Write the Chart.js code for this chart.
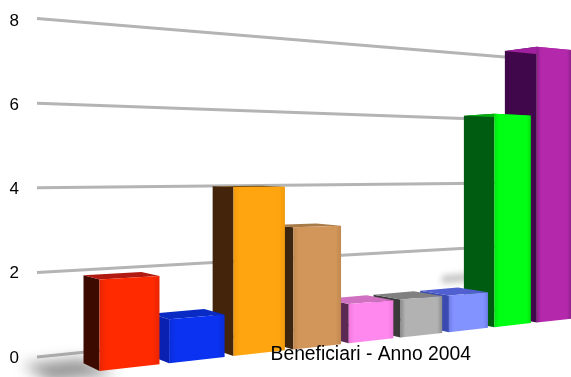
<!DOCTYPE html>
<html lang="it">
<head>
    <meta charset="UTF-8">
    <title>Beneficiari - Anno 2004</title>
    <style>
        html, body { margin: 0; padding: 0; background: #fff; }
        canvas { display: block; }
    </style>
</head>
<body>
    <canvas id="chart" width="571" height="377"></canvas>
    <script src="https://cdn.jsdelivr.net/npm/chart.js"></script>
    <script>
        // values (the categories have no visible names)
        const categories = ["1", "2", "3", "4", "5", "6", "7", "8", "9"];
        const beneficiari = [2, 1, 4, 3, 1, 1, 1, 6, 8];
        const axisTitle = "Beneficiari - Anno 2004";

        const frontColors = ["#ff2a00", "#0a32f0", "#ffa50f", "#d2965a", "#ff88ee", "#b2b2b2", "#8292ff", "#00ff14", "#b428ac"];
        const edgeColors = ["#e82400", "#0a2cd8", "#f09a0c", "#c08850", "#ee78dc", "#8c8c8c", "#6c7ce8", "#00e010", "#8c2088"];
        const sideColors = ["#3d0a00", "#0a20b0", "#44240a", "#3d2610", "#5a2a55", "#3a3a3a", "#3a4ab0", "#005c10", "#40084a"];
        const topColors = ["#b01a10", "#0a2ac4", "#7a5010", "#a87a48", "#d070c0", "#808080", "#5060d0", "#00b010", "#a020a0"];

        // camera used to turn the flat scale values into the tilted view
        const cam = { growth: 0.04, x0: 130, dx: 70, y0: 367.5, dy: -7.75, unit: 44.9, vx: -338, vy: 165, barDepth: 0.0365 };
        const wall = { x0: 37, y0: 357, unit0: 42.3, x1: 505, y1: 309, unit1: 31.5 };

        function project(i, h, d) {
            const w = 1 + cam.growth * i;
            const x = cam.x0 + cam.dx * i / w;
            const y = cam.y0 + cam.dy * i / w - cam.unit * h / w;
            return [x + d * (cam.vx - x), y + d * (cam.vy - y)];
        }

        function quad(ctx, pts, fill) {
            ctx.beginPath();
            pts.forEach((p, n) => n ? ctx.lineTo(p[0], p[1]) : ctx.moveTo(p[0], p[1]));
            ctx.closePath();
            ctx.fillStyle = fill;
            ctx.fill();
        }

        const tilted = {
            id: "tilted",
            beforeDatasetDraw(chart, args) {
                const ctx = chart.ctx;
                const xs = chart.scales.x;
                const ys = chart.scales.y;
                const n = categories.length;
                const bars = args.meta.data;
                const d = cam.barDepth;
                const left = el => xs.getDecimalForPixel(el.x - el.width / 2) * n - 0.5;
                const right = el => xs.getDecimalForPixel(el.x + el.width / 2) * n - 0.5;

                ctx.save();
                ctx.filter = "blur(0.6px)";

                // back wall lines
                ys.ticks.forEach(t => {
                    ctx.beginPath();
                    ctx.moveTo(wall.x0, wall.y0 - wall.unit0 * t.value);
                    ctx.lineTo(wall.x1, wall.y1 - wall.unit1 * t.value);
                    ctx.lineWidth = 3;
                    ctx.strokeStyle = "#b4b4b4";
                    ctx.stroke();
                });

                // soft shadows: floor left of the first bar, wall behind the seventh
                const sL = left(bars[0]);
                ctx.filter = "blur(7px)";
                quad(ctx, [project(sL - 0.75, 0, d + 0.02), project(sL + 0.1, 0, d + 0.02), project(sL + 0.1, 0, -0.02), project(sL - 0.75, 0, -0.02)], "rgba(90,90,90,0.65)");
                ctx.filter = "blur(3px)";
                const sR = right(bars[6]);
                quad(ctx, [project(sR + 0.5, 1.15, 0.08), project(sR + 1.2, 1.15, 0.08), project(sR + 1.2, 0.9, 0.08), project(sR + 0.5, 0.9, 0.08)], "rgba(170,170,170,0.7)");
                ctx.filter = "blur(0.6px)";

                // right to left, nearer bars cover the sides of the next ones
                for (let k = bars.length - 1; k >= 0; k--) {
                    const el = bars[k];
                    const iL = left(el);
                    const iR = right(el);
                    const h = ys.getValueForPixel(el.y);
                    const fl = project(iL, h, 0);
                    const fr = project(iR, h, 0);
                    const bl = project(iL, 0, 0);
                    const br = project(iR, 0, 0);

                    quad(ctx, [project(iL, h, d), project(iL, 0, d), bl, fl], sideColors[k]);
                    quad(ctx, [fl, fr, project(iR, h, d), project(iL, h, d)], topColors[k]);

                    const grad = ctx.createLinearGradient(fl[0], 0, fr[0], 0);
                    grad.addColorStop(0, edgeColors[k]);
                    grad.addColorStop(0.12, frontColors[k]);
                    grad.addColorStop(0.88, frontColors[k]);
                    grad.addColorStop(1, edgeColors[k]);
                    quad(ctx, [fl, fr, br, bl], grad);
                }
                ctx.restore();
                return false;
            }
        };

        new Chart(document.getElementById("chart"), {
            type: "bar",
            data: {
                labels: categories,
                datasets: [{ data: beneficiari, backgroundColor: frontColors, barPercentage: 0.857, categoryPercentage: 1 }]
            },
            options: {
                responsive: false,
                animation: false,
                events: [],
                layout: { autoPadding: false, padding: { left: 9, right: 100, top: 21, bottom: 0 } },
                plugins: { legend: { display: false }, tooltip: { enabled: false } },
                scales: {
                    x: {
                        afterFit(scale) { scale.height = 19; },
                        grid: { display: false, z: 1 },
                        border: { display: false },
                        ticks: { display: false },
                        title: {
                            display: true,
                            text: axisTitle,
                            align: "end",
                            color: "#000",
                            font: { family: "'Liberation Sans'", size: 19.3 },
                            padding: { top: 0, bottom: 10.4 }
                        }
                    },
                    y: {
                        min: 0,
                        max: 8,
                        // ticks.padding also pads the scale vertically, drop that
                        afterFit(scale) { scale.width = 28; scale.paddingTop = 0; scale.paddingBottom = 0; },
                        grid: { display: false, drawTicks: false },
                        border: { display: false },
                        ticks: { stepSize: 2, padding: 18, color: "#000", font: { family: "'Liberation Sans'", size: 17 } }
                    }
                }
            },
            plugins: [tilted]
        });
    </script>
</body>
</html>
